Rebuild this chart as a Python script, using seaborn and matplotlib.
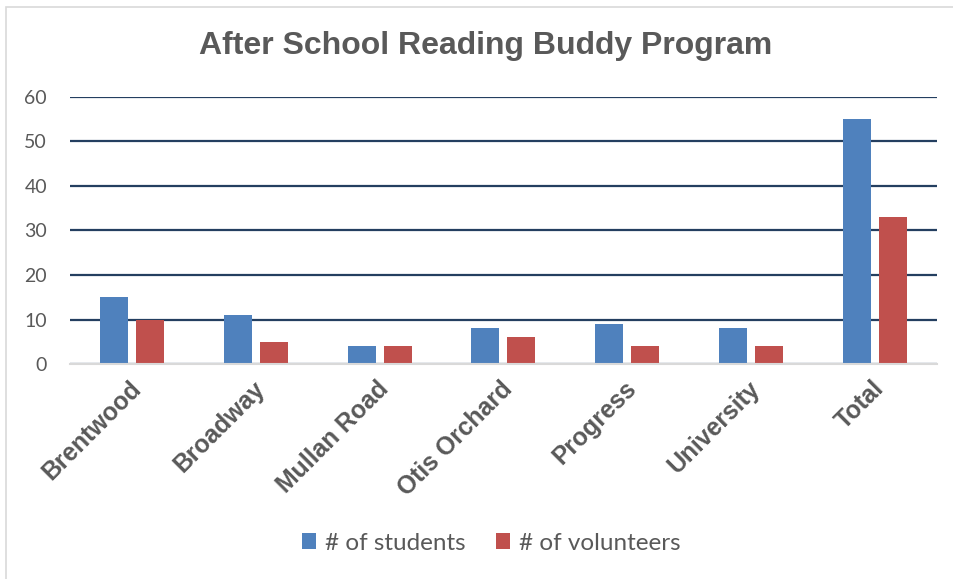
import pandas as pd
import seaborn as sns
import matplotlib.pyplot as plt
from matplotlib.patches import Rectangle
from matplotlib.transforms import ScaledTranslation

# 数据
schools = ["Brentwood", "Broadway", "Mullan Road", "Otis Orchard", "Progress", "University", "Total"]
students = [15, 11, 4, 8, 9, 8, 55]
volunteers = [10, 5, 4, 6, 4, 4, 33]
series_names = ["# of students", "# of volunteers"]
y_ticks = [0, 10, 20, 30, 40, 50, 60]

df = pd.DataFrame({
    "school": schools * 2,
    "value": students + volunteers,
    "series": [series_names[0]] * len(schools) + [series_names[1]] * len(schools),
})

sns.set_theme(style="white")
plt.rcParams['font.family'] = ['Lato', 'DejaVu Sans']

fig = plt.figure(figsize=(9.54, 5.79), dpi=100)
ax = fig.add_axes([0.0734, 0.3713, 0.9086, 0.4612])

# 外框（只露出上边和左边）
fig.patches.append(Rectangle((6 / 954, -0.1), 1.2, (579 - 7) / 579 + 0.1, transform=fig.transFigure,
                             fill=False, edgecolor="#D9D9D9", linewidth=1.2))

sns.barplot(data=df, x="school", y="value", hue="series", order=schools,
            palette=["#4F81BD", "#C0504D"], saturation=1, width=0.58, gap=0.22, ax=ax,
            edgecolor="none", legend=True, zorder=3)

ax.set_ylim(0, 60)
ax.set_yticks(y_ticks)
ax.set_xlim(-0.5, len(schools) - 0.5)
ax.grid(axis="y", color="#243F60", linewidth=1.6, zorder=0)
ax.set_axisbelow(True)
for side in ["top", "right", "left"]:
    ax.spines[side].set_visible(False)
ax.spines["bottom"].set_color("#D9D9D9")
ax.spines["bottom"].set_linewidth(1.5)
ax.spines["bottom"].set_zorder(4)

ax.tick_params(axis="y", labelsize=14, labelcolor="#595959", length=0, pad=16.5)
ax.tick_params(axis="x", length=0, pad=9)
ax.set_xticks(range(len(schools)))
ax.set_xticklabels(schools, rotation=45, ha="right", rotation_mode="anchor",
                   fontsize=17.8, fontweight="bold", color="#595959", family="Liberation Sans")
# 标签稍微左移
shift = ScaledTranslation(-3 / 100, 0, fig.dpi_scale_trans)
for lbl in ax.get_xticklabels():
    lbl.set_transform(lbl.get_transform() + shift)
ax.set_xlabel("")
ax.set_ylabel("")

fig.text(0.509, 0.921, "After School Reading Buddy Program", ha="center", va="center",
         fontsize=23, fontweight="bold", color="#595959", family="Liberation Sans")

handles, labels = ax.get_legend_handles_labels()
ax.legend_.remove()
fig.legend(handles, labels, loc="center", bbox_to_anchor=(0.5147, 0.062), ncol=2,
           frameon=False, fontsize=17.5, labelcolor="#595959", handlelength=0.6, handleheight=0.6,
           handletextpad=0.35, columnspacing=1.25)

fig.savefig("out.png", dpi=100)
